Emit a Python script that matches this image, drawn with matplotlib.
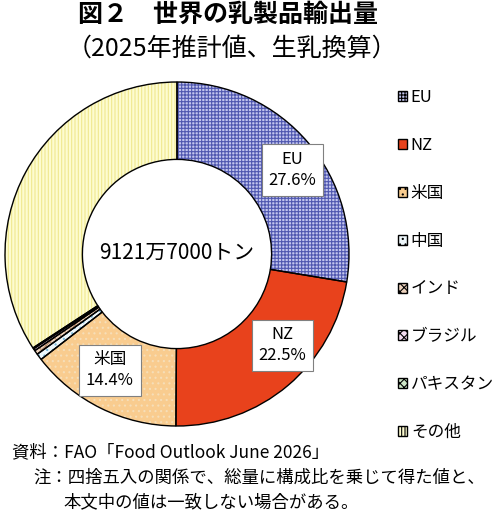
import matplotlib
matplotlib.use("Agg")
import matplotlib.pyplot as plt
from matplotlib.patches import Patch
import numpy as np

plt.rcParams['font.family'] = ['Noto Sans CJK JP', 'DejaVu Sans']
plt.rcParams['hatch.linewidth'] = 0.8

# data
names = ['EU', 'NZ', '米国', '中国', 'インド', 'ブラジル', 'パキスタン', 'その他']
shares = [27.6, 22.5, 14.4, 0.6, 0.4, 0.2, 0.1, 34.2]
labelled = ['EU', 'NZ', '米国']
total_text = '9121万7000トン'

# styles
faces = ['#c3c6ee', '#e8421c', '#f9cc8f', '#eef7fb', '#ecd2bd', '#f3dcf0', '#cfe8c8', '#fdfcd0']
hatch_cols = ['#5058b0', '#e8421c', '#f6deb8', '#7ab8d8', '#b48a6a', '#c898c0', '#78a870', '#f0e890']
hatches = ['+++++', None, '...', '...', 'xxxx', 'xxxx', 'xxxx', '|||||']
label_pos = [(36, 0.83), (-41, 0.81), (-120, 0.78)]

fig = plt.figure(figsize=(5.0, 5.15), dpi=100)
ax = fig.add_axes([0.01, 0.1728, 0.688, 0.668])

wedges, _ = ax.pie(shares, startangle=90, counterclock=False, colors=faces,
                   hatch=hatches, radius=1,
                   wedgeprops=dict(width=0.45, linewidth=0))
for w, hc in zip(wedges, hatch_cols):
    w.set_edgecolor(hc)
    w.set_linewidth(0)

# outlines
ax.pie(shares, startangle=90, counterclock=False, radius=1,
       wedgeprops=dict(width=0.45, facecolor='none', edgecolor='black', linewidth=1.0))

ax.set_aspect('equal')
ax.set_xlim(-1, 1)
ax.set_ylim(-1, 1)
ax.axis('off')

for name, (ang, r) in zip(labelled, label_pos):
    i = names.index(name)
    a = np.deg2rad(ang)
    ax.text(r * np.cos(a), r * np.sin(a), f'{name}\n{shares[i]}%', ha='center', va='center',
            fontsize=12, linespacing=1.3,
            bbox=dict(boxstyle='square,pad=0.4', facecolor='white', edgecolor='#808080', linewidth=0.8))

ax.text(0, 0.005, total_text, ha='center', va='center', fontsize=15)

# legend
handles = [Patch(facecolor=f, edgecolor='black', hatch=h, linewidth=1.0) for f, h in zip(faces, hatches)]
leg = fig.legend(handles, names, loc='upper left', bbox_to_anchor=(0.795, 0.827),
                 frameon=False, fontsize=12, handlelength=0.55, handleheight=0.55,
                 handletextpad=0.25, labelspacing=1.85, borderpad=0, borderaxespad=0)

fig.text(0.156, 0.972, '図２　世界の乳製品輸出量', fontsize=18, fontweight='bold', va='center', ha='left')
fig.text(0.134, 0.906, '（2025年推計値、生乳換算）', fontsize=18, va='center', ha='left')

fig.text(0.024, 0.121, '資料：FAO「Food Outlook June 2026」', fontsize=12.5, va='center')
fig.text(0.066, 0.072, '注：四捨五入の関係で、総量に構成比を乗じて得た値と、', fontsize=12.5, va='center')
fig.text(0.126, 0.025, '本文中の値は一致しない場合がある。', fontsize=12.5, va='center')

fig.savefig('out.png', dpi=100)
